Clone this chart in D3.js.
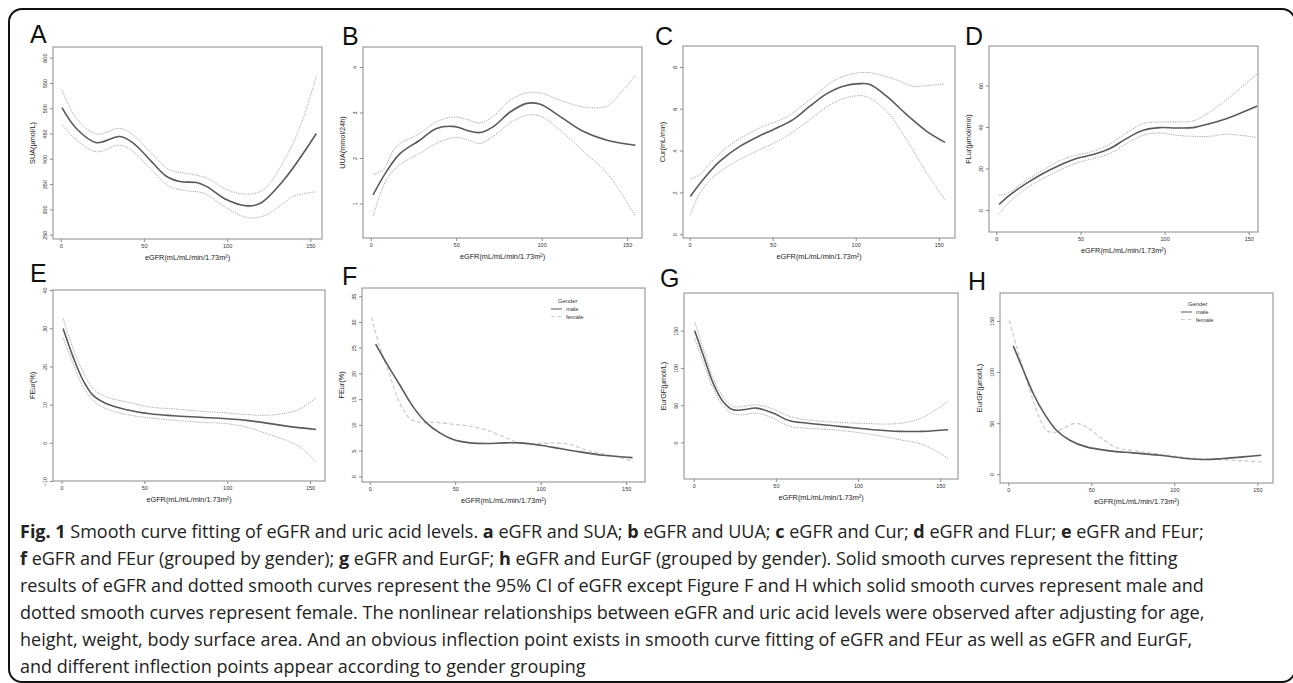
<!DOCTYPE html>
<html>
<head>
<meta charset="utf-8">
<script src="https://cdn.jsdelivr.net/npm/d3@7"></script>
<style>
  body { margin: 0; background: #fff; }
  svg { display: block; }
</style>
</head>
<body>
<svg id="fig" width="1293" height="683"></svg>
<script>
// ---- data: [eGFR, value] ----
const xTicks = [0, 50, 100, 150];

// A: SUA
const suaFit = [[0.8,501],[9.4,460],[21.5,432],[35.5,444],[43.6,431],[53.6,398],[63.7,365],[71.7,355],[81.7,353],[87.8,345],[99.8,319],[111.8,307],[119.9,312],[134,358],[153.6,450]];
const suaUp  = [[0.8,536],[9.5,480],[21.5,449],[35.5,460],[43.6,447],[53.6,414],[65.7,378],[75.8,371],[87.8,362],[99.8,339],[111.8,330],[121.9,339],[134,395],[144,465],[153.6,563]];
const suaLo  = [[0.8,468],[9.5,437],[21.5,414],[35.5,427],[43.6,414],[53.6,381],[65.7,345],[75.8,337],[85.7,332],[99.8,303],[111.8,284],[121.9,287],[134,312],[140,326],[153.6,335]];

// B: UUA
const uuaFit = [[1.4,1.19],[9.2,1.7],[17,2.09],[28.7,2.39],[38.5,2.65],[49.3,2.69],[56,2.61],[64,2.56],[71.8,2.69],[81.6,3.01],[91.3,3.2],[99.2,3.18],[110.9,2.91],[124.6,2.58],[138.3,2.39],[154.9,2.28]];
const uuaUp  = [[1.4,1.64],[7.2,1.74],[15,2.25],[28.7,2.54],[38.5,2.8],[49.3,2.9],[56,2.85],[64,2.77],[71.8,2.92],[81.6,3.27],[91.3,3.43],[99.2,3.43],[110.9,3.27],[124.6,3.12],[138.3,3.14],[146,3.42],[154.9,3.82]];
const uuaLo  = [[1.4,0.72],[9.2,1.52],[17,1.85],[28.7,2.1],[38.5,2.32],[49.3,2.45],[56,2.41],[64,2.32],[71.8,2.48],[81.6,2.77],[91.3,2.94],[99.2,2.92],[110.9,2.61],[124.6,2.14],[138.3,1.66],[146,1.26],[154.9,0.72]];

// C: Cur
const curFit = [[0.4,1.8],[8,2.6],[18.1,3.48],[30.2,4.2],[42.2,4.71],[50.3,5.0],[62.3,5.48],[72.4,6.12],[82.4,6.71],[92.5,7.08],[102.6,7.2],[108.6,7.16],[118.6,6.6],[130.7,5.72],[142.8,4.92],[153.8,4.39]];
const curUp  = [[0.4,2.64],[6,2.84],[14.1,3.56],[26.1,4.36],[42.2,5.08],[58.3,5.61],[72.4,6.44],[86.5,7.32],[98.5,7.68],[108.6,7.72],[122.7,7.43],[134.7,7.08],[142.8,7.11],[153.8,7.19]];
const curLo  = [[0.4,0.93],[6,1.96],[14.1,2.73],[26.1,3.4],[42.2,4.04],[58.3,4.68],[72.4,5.48],[86.5,6.28],[98.5,6.6],[106.6,6.57],[118.6,5.88],[130.7,4.52],[142.8,2.92],[153.8,1.65]];

// D: FLur
const flurFit = [[1.6,2.7],[7.9,7.2],[17.8,12.8],[27.7,17.6],[37.6,21.6],[47.6,24.8],[57.5,26.7],[67.4,29.6],[77.3,34.4],[87.2,38.4],[97.1,39.7],[107,39.5],[116.9,39.7],[126.8,41.6],[136.7,44],[155.1,50.1]];
const flurUp  = [[1.6,7.2],[5.9,7.7],[17.8,14.4],[27.7,19.2],[37.6,23.7],[47.6,26.4],[57.5,28.3],[67.4,31.7],[77.3,37.1],[87.2,41.6],[97.1,42.4],[107,42.4],[116.9,42.9],[126.8,47.2],[136.7,53.1],[155.1,65.6]];
const flurLo  = [[1.6,-1.9],[7.9,4],[17.8,10.4],[27.7,15.2],[37.6,19.2],[47.6,22.7],[57.5,24.8],[67.4,27.2],[77.3,32],[87.2,36],[97.1,37.1],[107,36],[116.9,35.5],[126.8,35.5],[136.7,36.5],[155.1,34.9]];

// E: FEur
const feurFit = [[1,29.9],[7,22.5],[13.1,16.3],[19.1,12.4],[27.2,10.2],[39.3,8.65],[53.4,7.6],[67.4,7.1],[83.6,6.7],[99.7,6.3],[111.7,5.86],[123.8,5.16],[135.9,4.37],[153.6,3.5]];
const feurUp  = [[1,32.5],[7,24.7],[13.1,18.5],[19.1,14.2],[27.2,12],[39.3,10.7],[53.4,9.35],[67.4,8.9],[83.6,8.3],[99.7,7.8],[111.7,7.4],[123.8,7.2],[135.9,7.8],[144,8.9],[153.6,11.8]];
const feurLo  = [[1,27.5],[7,20.7],[13.1,14.6],[19.1,11.1],[27.2,8.9],[39.3,7.4],[53.4,6.5],[67.4,5.9],[83.6,5.4],[99.7,5.0],[111.7,4.1],[123.8,2.4],[135.9,0.6],[144,-1.1],[153.6,-5.1]];

// F: FEur by gender
const feurMale   = [[3.5,25.7],[9.8,22],[17.6,17.75],[25.4,13.5],[33.2,10.4],[41,8.45],[48.8,7.15],[58.6,6.5],[68.4,6.37],[78.1,6.5],[87.9,6.5],[99.6,6.05],[111.3,5.4],[123,4.75],[136.7,4.1],[153.7,3.64]];
const feurFemale = [[1,30.9],[5.9,25.2],[11.7,19.7],[17.6,14.2],[23.4,11.25],[29.3,10.5],[39,10.5],[48.8,10.1],[58.6,9.75],[68.4,9.0],[78.1,7.7],[87.9,6.5],[97.7,6.37],[107.4,6.5],[117.2,6.2],[127,5.07],[140.6,4.1],[154.3,2.9]];

// G: EurGF
const eurgfFit = [[0.6,149.8],[5.7,117.6],[11.8,79.6],[17.8,55],[23.9,43.8],[30,43.8],[38.1,46],[48.2,39.3],[58.4,29],[68.5,26],[88.8,21.5],[109,17],[125.3,14.8],[139.5,14.8],[154.7,17]];
const eurgfUp  = [[0.6,162],[5.7,126.5],[11.8,86.3],[17.8,61.7],[23.9,48.3],[30,48.3],[38.1,50.5],[48.2,44.7],[58.4,34.9],[68.5,30.4],[88.8,26.8],[109,25],[119.2,24.6],[129.3,26.8],[139.5,33.5],[154.7,55]];
const eurgfLo  = [[0.6,139],[5.7,108.6],[11.8,72.9],[17.8,49.2],[23.9,38.4],[30,37.1],[38.1,39.3],[48.2,32.6],[58.4,21.5],[68.5,19.2],[88.8,16.1],[109,10.3],[125.3,3.6],[139.5,-3.1],[154.7,-21]];

// H: EurGF by gender
const eurgfMale   = [[3,125.5],[9,102],[15,79],[21,61],[29,43],[37,33.3],[47,26.8],[61,22.9],[75,20.9],[91.2,18.6],[107.2,15.4],[119.2,14.4],[129.3,15.4],[141.3,17],[152.3,18.6]];
const eurgfFemale = [[0.6,150.3],[5,124.8],[11,92.2],[17,62.7],[22,44.8],[27,40.5],[33,44.8],[40,49.7],[47,46.4],[55,36.6],[65,26.1],[77,22.9],[91.2,19.6],[107.2,16.3],[121,14.7],[135.3,13.7],[153.3,12.1]];

const genderLabels = ["male", "female"];

const captionLines = [
  "**Fig. 1** Smooth curve fitting of eGFR and uric acid levels. **a** eGFR and SUA; **b** eGFR and UUA; **c** eGFR and Cur; **d** eGFR and FLur; **e** eGFR and FEur;",
  "**f** eGFR and FEur (grouped by gender); **g** eGFR and EurGF; **h** eGFR and EurGF (grouped by gender). Solid smooth curves represent the fitting",
  "results of eGFR and dotted smooth curves represent the 95% CI of eGFR except Figure F and H which solid smooth curves represent male and",
  "dotted smooth curves represent female. The nonlinear relationships between eGFR and uric acid levels were observed after adjusting for age,",
  "height, weight, body surface area. And an obvious inflection point exists in smooth curve fitting of eGFR and FEur as well as eGFR and EurGF,",
  "and different inflection points appear according to gender grouping"
];

// ---- layout ----
const panels = [
  { tag: "A", tagPos: [30, 43],  box: [53, 47, 322, 239],   xDom: [-4.6, 157],  yDom: [241.5, 621], yTicks: [250,300,350,400,450,500,550,600], yLabel: "SUA(μmol/L)",
    lines: [[suaFit, "fit"], [suaUp, "ci"], [suaLo, "ci"]] },
  { tag: "B", tagPos: [342, 45], box: [363, 47, 642, 238],  xDom: [-4.5, 158.7], yDom: [0.24, 4.44], yTicks: [1,2,3,4], yLabel: "UUA(mmol/24h)",
    lines: [[uuaFit, "fit"], [uuaUp, "ci"], [uuaLo, "ci"]] },
  { tag: "C", tagPos: [655, 45], box: [683, 46, 955, 238],  xDom: [-4.0, 159.8], yDom: [-0.18, 9.0], yTicks: [0,2,4,6,8], yLabel: "Cur(mL/min)",
    lines: [[curFit, "fit"], [curUp, "ci"], [curLo, "ci"]] },
  { tag: "D", tagPos: [965, 45], box: [989, 46, 1258, 232], xDom: [-4.4, 155.5], yDom: [-10.6, 79], yTicks: [0,20,40,60], yLabel: "FLur(μmol/min)",
    lines: [[flurFit, "fit"], [flurUp, "ci"], [flurLo, "ci"]] },
  { tag: "E", tagPos: [30, 282], box: [53, 290, 325, 481],  xDom: [-5.1, 159], yDom: [-10, 40], yTicks: [-10,0,10,20,30,40], yLabel: "FEur(%)",
    lines: [[feurFit, "fit"], [feurUp, "ci"], [feurLo, "ci"]] },
  { tag: "F", tagPos: [342, 285], box: [362, 288, 645, 482], xDom: [-4.5, 161], yDom: [-1.1, 36.6], yTicks: [0,5,10,15,20,25,30,35], yLabel: "FEur(%)",
    lines: [[feurFemale, "female"], [feurMale, "fit"]], legend: [551, 301] },
  { tag: "G", tagPos: [660, 287], box: [684, 293, 958, 479], xDom: [-5.9, 160.8], yDom: [-49.2, 200.6], yTicks: [0,50,100,150], yLabel: "EurGF(μmol/L)",
    lines: [[eurgfFit, "fit"], [eurgfUp, "ci"], [eurgfLo, "ci"]] },
  { tag: "H", tagPos: [968, 290], box: [1000, 293, 1273, 483], xDom: [-5, 159.4], yDom: [-8.5, 177.2], yTicks: [0,50,100,150], yLabel: "EurGF(μmol/L)",
    lines: [[eurgfFemale, "female"], [eurgfMale, "fit"]], legend: [1181, 304] }
];

const styles = {
  fit:    { stroke: "#5a5a5a", width: 1.6, dash: null },
  ci:     { stroke: "#9a9a9a", width: 0.9, dash: "1.2,1.2" },
  female: { stroke: "#cfcfcf", width: 1.4, dash: "4,2.5" }
};

const svg = d3.select("#fig");
svg.append("rect").attr("width", 1293).attr("height", 683).attr("fill", "#fff");

// outer frame
svg.append("rect")
  .attr("x", 9).attr("y", 9).attr("width", 1286).attr("height", 673)
  .attr("rx", 13).attr("ry", 13)
  .attr("fill", "none").attr("stroke", "#111").attr("stroke-width", 2);

const plotFont = "'Liberation Sans', Arial, sans-serif";

panels.forEach(p => {
  const [x0, y0, x1, y1] = p.box;
  const x = d3.scaleLinear().domain(p.xDom).range([x0, x1]);
  const y = d3.scaleLinear().domain(p.yDom).range([y1, y0]);
  const g = svg.append("g");

  // panel letter
  g.append("text")
    .attr("x", p.tagPos[0]).attr("y", p.tagPos[1])
    .attr("font-family", plotFont).attr("font-size", 25)
    .attr("fill", "#111").text(p.tag);

  // x axis
  const xa = g.append("g")
    .attr("transform", `translate(0,${y1})`)
    .call(d3.axisBottom(x).tickValues(xTicks).tickSize(3).tickPadding(2).tickFormat(d3.format("d")));
  xa.select(".domain").remove();
  xa.selectAll("line").attr("stroke", "#555").attr("stroke-width", 0.7);
  xa.selectAll("text").attr("font-family", plotFont).attr("font-size", 5.5).attr("fill", "#333");

  // y axis, labels parallel to the axis like base R
  const ya = g.append("g")
    .attr("transform", `translate(${x0},0)`)
    .call(d3.axisLeft(y).tickValues(p.yTicks).tickSize(3).tickFormat(d3.format("d")));
  ya.select(".domain").remove();
  ya.selectAll("line").attr("stroke", "#555").attr("stroke-width", 0.7);
  ya.selectAll("text")
    .attr("x", 0).attr("dy", 0)
    .attr("text-anchor", "middle")
    .attr("transform", "translate(-6,0) rotate(-90)")
    .attr("font-family", plotFont).attr("font-size", 5.5).attr("fill", "#333");

  // axis titles
  g.append("text")
    .attr("x", (x0 + x1) / 2).attr("y", y1 + 21)
    .attr("text-anchor", "middle")
    .attr("font-family", plotFont).attr("font-size", 7.3).attr("fill", "#222")
    .text("eGFR(mL/mL/min/1.73m²)");
  g.append("text")
    .attr("transform", `translate(${x0 - 18},${(y0 + y1) / 2}) rotate(-90)`)
    .attr("text-anchor", "middle")
    .attr("font-family", plotFont).attr("font-size", 7.3).attr("fill", "#222")
    .text(p.yLabel);

  // curves
  const line = d3.line()
    .x(d => x(d[0])).y(d => y(d[1]))
    .curve(d3.curveCatmullRom.alpha(0.5));
  p.lines.forEach(([data, key]) => {
    const s = styles[key];
    g.append("path")
      .datum(data)
      .attr("d", line)
      .attr("fill", "none")
      .attr("stroke", s.stroke)
      .attr("stroke-width", s.width)
      .attr("stroke-dasharray", s.dash);
  });

  // plot frame
  g.append("rect")
    .attr("x", x0).attr("y", y0).attr("width", x1 - x0).attr("height", y1 - y0)
    .attr("fill", "none").attr("stroke", "#8a8a8a").attr("stroke-width", 1);

  // gender legend
  if (p.legend) {
    const [lx, ly] = p.legend;
    const lg = g.append("g").attr("transform", `translate(${lx},${ly})`);
    lg.append("text").attr("x", 7).attr("y", 2)
      .attr("font-family", plotFont).attr("font-size", 5.8).attr("fill", "#333").text("Gender");
    genderLabels.forEach((lab, i) => {
      const s = styles[i === 0 ? "fit" : "female"];
      const yy = 8 + i * 7.5;
      lg.append("line").attr("x1", 0).attr("x2", 11).attr("y1", yy).attr("y2", yy)
        .attr("stroke", s.stroke).attr("stroke-width", 1).attr("stroke-dasharray", s.dash);
      lg.append("text").attr("x", 15).attr("y", yy + 2)
        .attr("font-family", plotFont).attr("font-size", 5.8).attr("fill", "#333").text(lab);
    });
  }
});

// caption, one text per printed line
const cap = svg.append("g");
captionLines.forEach((ln, i) => {
  const t = cap.append("text")
    .attr("x", 20).attr("y", 538 + i * 27)
    .attr("font-family", "'Open Sans', 'Noto Sans', sans-serif")
    .attr("font-size", 18)
    .attr("fill", "#222");
  ln.split("**").forEach((seg, j) => {
    if (!seg) return;
    t.append("tspan").attr("font-weight", j % 2 ? 700 : 400).text(seg);
  });
});
</script>
</body>
</html>
